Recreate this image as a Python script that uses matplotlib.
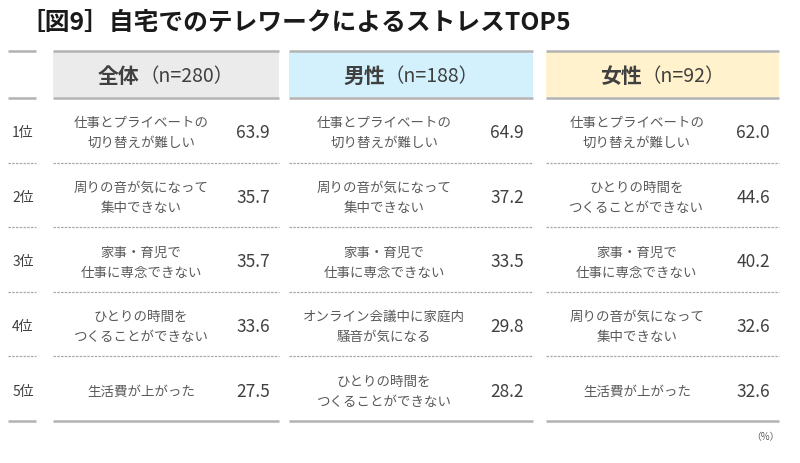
import matplotlib
matplotlib.use('Agg')
import matplotlib.pyplot as plt
from matplotlib.patches import Rectangle

plt.rcParams['font.family'] = ['Noto Sans CJK JP', 'DejaVu Sans']

# データ
title = '［図9］自宅でのテレワークによるストレスTOP5'
ranks = ['1位', '2位', '3位', '4位', '5位']
groups = ['全体', '男性', '女性']
group_n = [280, 188, 92]

items_all = ['仕事とプライベートの\n切り替えが難しい', '周りの音が気になって\n集中できない',
             '家事・育児で\n仕事に専念できない', 'ひとりの時間を\nつくることができない',
             '生活費が上がった']
values_all = [63.9, 35.7, 35.7, 33.6, 27.5]

items_male = ['仕事とプライベートの\n切り替えが難しい', '周りの音が気になって\n集中できない',
              '家事・育児で\n仕事に専念できない', 'オンライン会議中に家庭内\n騒音が気になる',
              'ひとりの時間を\nつくることができない']
values_male = [64.9, 37.2, 33.5, 29.8, 28.2]

items_female = ['仕事とプライベートの\n切り替えが難しい', 'ひとりの時間を\nつくることができない',
                '家事・育児で\n仕事に専念できない', '周りの音が気になって\n集中できない',
                '生活費が上がった']
values_female = [62.0, 44.6, 40.2, 32.6, 32.6]

items = [items_all, items_male, items_female]
values = [values_all, values_male, values_female]
header_colors = ['#ebebeb', '#d2f1fc', '#fff2cc']

# レイアウト（ピクセル座標）
col_x = [(53, 279), (289, 533), (546, 779)]
rank_x = (8, 36)
top_y, head_y = 52, 99
row_h = 64.6
line_c = '#b3b3b3'

fig = plt.figure(figsize=(8, 4.64), dpi=100)
ax = fig.add_axes([0, 0, 1, 1])
ax.set_xlim(0, 800)
ax.set_ylim(464, 0)
ax.axis('off')

ax.text(20, 23, title, fontsize=17.8, fontweight='bold', color='#1a1a1a',
        ha='left', va='center')

renderer = fig.canvas.get_renderer()

def hline(x0, x1, y, dashed=False, lw=1.8):
    if dashed:
        ax.plot([x0, x1], [y, y], color='#a8a8a8', lw=0.9, ls=(0, (2, 1)))
    else:
        ax.plot([x0, x1], [y, y], color=line_c, lw=lw, solid_capstyle='butt')

bottom_y = head_y + row_h * len(ranks)
for x0, x1 in [rank_x] + col_x:
    hline(x0, x1, top_y)
    hline(x0, x1, head_y)
    for i in range(1, len(ranks)):
        hline(x0, x1, head_y + row_h * i, dashed=True)
    hline(x0, x1, bottom_y)

for i, r in enumerate(ranks):
    yc = head_y + row_h * (i + 0.5) + 2
    ax.text(23, yc, r, fontsize=10, color='#404040', ha='center', va='center')

for g, (x0, x1) in enumerate(col_x):
    ax.add_patch(Rectangle((x0, top_y + 1), x1 - x0, head_y - top_y - 2,
                           facecolor=header_colors[g], edgecolor='none', zorder=0))
    hc = (x0 + x1) / 2
    hy = (top_y + head_y) / 2 + 1
    t1 = ax.text(hc, hy, groups[g], fontsize=15, fontweight='bold', color='#404040',
                 ha='right', va='center')
    t2 = ax.text(hc, hy, '（n=%d）' % group_n[g], fontsize=14, color='#404040',
                 ha='left', va='center')
    w1 = t1.get_window_extent(renderer).width
    w2 = t2.get_window_extent(renderer).width
    shift = (w1 - w2) / 2
    t1.set_x(hc + shift)
    t2.set_x(hc + shift)

    for i in range(len(ranks)):
        yc = head_y + row_h * (i + 0.5) + 2
        ax.text(x0 + (x1 - x0) * 0.39, yc, items[g][i], fontsize=9.7, color='#595959',
                ha='center', va='center', linespacing=1.55, multialignment='center')
        ax.text(x1 - 9, yc, '%.1f' % values[g][i], fontsize=12.5, color='#404040',
                ha='right', va='center')

ax.text(780, 437, '（%）', fontsize=7, color='#595959', ha='right', va='center')

fig.savefig('out.png', dpi=100)
